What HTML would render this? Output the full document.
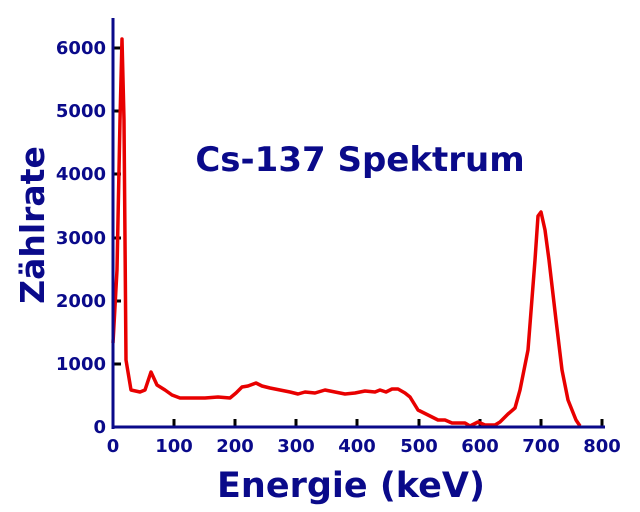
<!DOCTYPE html>
<html><head><style>body{margin:0;background:#fff}svg{display:block}</style></head><body>
<svg width="640" height="512" xmlns="http://www.w3.org/2000/svg" font-family="DejaVu Sans, Liberation Sans, sans-serif" font-weight="bold" fill="#0a0a8a">
<g stroke="#000" stroke-width="3">
<line x1="113" y1="48" x2="121" y2="48"/><line x1="113" y1="111" x2="121" y2="111"/><line x1="113" y1="174" x2="121" y2="174"/><line x1="113" y1="238" x2="121" y2="238"/><line x1="113" y1="301" x2="121" y2="301"/><line x1="113" y1="364" x2="121" y2="364"/>
<line x1="174" y1="427" x2="174" y2="419"/><line x1="235" y1="427" x2="235" y2="419"/><line x1="296" y1="427" x2="296" y2="419"/><line x1="357" y1="427" x2="357" y2="419"/><line x1="419" y1="427" x2="419" y2="419"/><line x1="480" y1="427" x2="480" y2="419"/><line x1="541" y1="427" x2="541" y2="419"/><line x1="602" y1="427" x2="602" y2="419"/>
</g>
<polyline fill="none" stroke="#e80000" stroke-width="3.5" stroke-linejoin="round" points="113,343 117,270 120,120 122,39 124,120 126,360 131,390 140,392 145,390 151,372 157,385 165,390 172,395 180,398 188,398 205,398 218,397 230,398 236,393 242,387 248,386 256,383 262,386 270,388 280,390 290,392 298,394 305,392 315,393 325,390 335,392 345,394 355,393 365,391 375,392 380,390 386,392 392,389 398,389 405,393 410,397 418,410 430,416 438,420 445,420 452,423 465,423 470,426 478,422 485,425 495,425 500,422 508,414 515,408 520,390 528,350 535,260 538,216 541,212 545,230 549,260 556,320 562,370 568,400 576,420 580,426"/>
<line x1="113" y1="18" x2="113" y2="429" stroke="#0a0a8a" stroke-width="3"/>
<line x1="112" y1="427" x2="605" y2="427" stroke="#0a0a8a" stroke-width="3"/>
<g font-size="18" text-anchor="end">
<text x="106" y="54">6000</text><text x="106" y="117">5000</text><text x="106" y="180">4000</text><text x="106" y="244">3000</text><text x="106" y="307">2000</text><text x="106" y="370">1000</text><text x="106" y="433">0</text>
</g>
<g font-size="18" text-anchor="middle">
<text x="113" y="452">0</text><text x="174" y="452">100</text><text x="235" y="452">200</text><text x="296" y="452">300</text><text x="357" y="452">400</text><text x="419" y="452">500</text><text x="480" y="452">600</text><text x="541" y="452">700</text><text x="602" y="452">800</text>
</g>
<text x="360" y="171" font-size="34" text-anchor="middle">Cs-137 Spektrum</text>
<text x="351" y="497" font-size="35" text-anchor="middle">Energie (keV)</text>
<text transform="translate(44,225) rotate(-90)" font-size="33" text-anchor="middle">Zählrate</text>
</svg>
</body></html>
